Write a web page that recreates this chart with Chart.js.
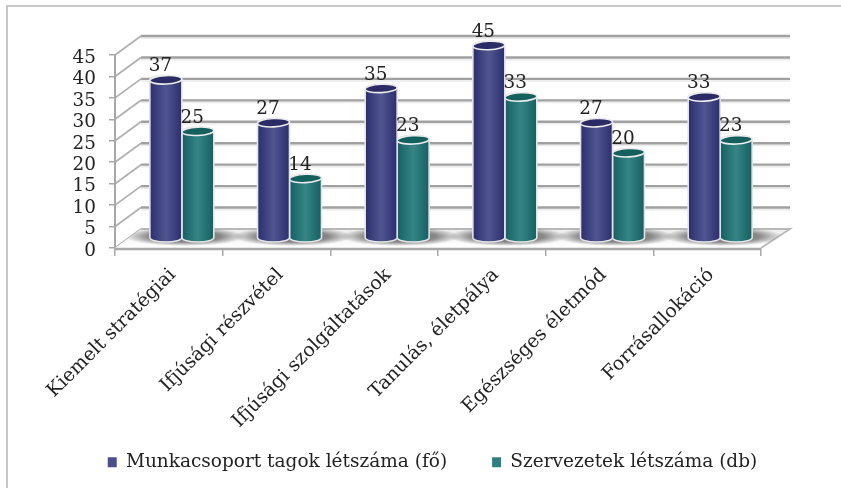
<!DOCTYPE html>
<html><head><meta charset="utf-8">
<style>html,body{margin:0;background:#fff}canvas{display:block}</style>
<script src="https://cdn.jsdelivr.net/npm/chart.js@4"></script></head>
<body><canvas id="c" width="841" height="488"></canvas>
<script>
const categories=["Kiemelt stratégiai","Ifjúsági részvétel","Ifjúsági szolgáltatások","Tanulás, életpálya","Egészséges életmód","Forrásallokáció"];
const groupMembers=[37,27,35,45,27,33];
const organisations=[25,14,23,33,20,23];
const seriesNames=["Munkacsoport tagok létszáma (fő)","Szervezetek létszáma (db)"];
const FONT='"DejaVu Serif",serif';
const DX=26,DY=-19;
function shade(ctx,x,w,c){const g=ctx.createLinearGradient(x,0,x+w,0);
 g.addColorStop(0,c[0]);g.addColorStop(.5,c[1]);g.addColorStop(1,c[0]);return g;}
const pal=[{side:['#2a2e6e','#51558f'],top:'#2b2c66',leg:'#4a4e8f'},{side:['#155f62','#368585'],top:'#14605f',leg:'#2f8080'}];
const LEGEND_TOP=408;
const scene={id:'scene',
 afterLayout(ch){const l=ch.legend;l.left+=52;l.right+=52;l.top=LEGEND_TOP;l.bottom=488;ch.scales.x.bottom=488;},
 beforeDatasetsDraw(ch){const {ctx,chartArea:a,scales:{y}}=ch;ctx.save();
  ctx.strokeStyle='#b5b5b5';ctx.lineWidth=1.5;ctx.beginPath();ctx.moveTo(7,488);ctx.lineTo(7,6);ctx.lineTo(841,6);ctx.stroke();
  const y0=y.getPixelForValue(0);
  y.ticks.forEach(t=>{const p=y.getPixelForValue(t.value);
   if(t.value>0){ctx.strokeStyle='#a0a0a0';ctx.lineWidth=2.4;ctx.beginPath();ctx.moveTo(a.left+DX,p+DY);ctx.lineTo(a.right+DX+3,p+DY);ctx.stroke();
    ctx.strokeStyle='rgba(0,0,0,.08)';ctx.lineWidth=1.5;ctx.beginPath();ctx.moveTo(a.left+DX,p+DY+2.2);ctx.lineTo(a.right+DX+3,p+DY+2.2);ctx.stroke();}
   ctx.strokeStyle='#b0b0b0';ctx.lineWidth=1.8;ctx.beginPath();ctx.moveTo(a.left,p);ctx.lineTo(a.left+DX,p+DY);ctx.stroke();});
  ctx.strokeStyle='#a8a8a8';ctx.lineWidth=2;ctx.beginPath();ctx.moveTo(a.left,y.getPixelForValue(45));ctx.lineTo(a.left,y0);ctx.stroke();
  ctx.beginPath();ctx.moveTo(a.left,y0);ctx.lineTo(a.left+DX,y0+DY);ctx.lineTo(a.right+DX+3,y0+DY);ctx.lineTo(a.right,y0);ctx.closePath();
  const fg=ctx.createLinearGradient(0,y0+DY,0,y0);fg.addColorStop(0,'#ededed');fg.addColorStop(1,'#ffffff');ctx.fillStyle=fg;ctx.fill();
  ctx.strokeStyle='#b8b8b8';ctx.lineWidth=1.8;ctx.beginPath();ctx.moveTo(a.left+DX,y0+DY);ctx.lineTo(a.right+DX+3,y0+DY);ctx.lineTo(a.right,y0);ctx.stroke();
  ctx.strokeStyle='#a8a8a8';ctx.lineWidth=2.6;ctx.beginPath();ctx.moveTo(a.left,y0+1);ctx.lineTo(a.right,y0+1);ctx.stroke();
  ch.getDatasetMeta(1).data.forEach(b=>{const cx=b.x-b.width/2+DX/2+3,cy=y0+DY/2-2;
    const g=ctx.createRadialGradient(0,0,0,0,0,1);g.addColorStop(0,'rgba(30,30,30,.65)');g.addColorStop(.6,'rgba(30,30,30,.5)');g.addColorStop(1,'rgba(30,30,30,0)');
    ctx.save();ctx.beginPath();ctx.moveTo(a.left,y0);ctx.lineTo(a.left+DX,y0+DY);ctx.lineTo(a.right+DX+3,y0+DY);ctx.lineTo(a.right,y0);ctx.closePath();ctx.clip();
    ctx.translate(cx,cy);ctx.scale(60,9.5);ctx.fillStyle=g;ctx.beginPath();ctx.arc(0,0,1,0,7);ctx.fill();ctx.restore();});
  ctx.restore();},
 beforeDatasetDraw(ch,args){const {ctx}=ch;const c=pal[args.index];
  ch.getDatasetMeta(args.index).data.forEach(b=>{
   const x=b.x-b.width/2+DX/2,w=b.width,top=b.y+DY/2,bot=b.base+DY/2,rx=w/2,ry=4.2,cx=x+rx;
   ctx.save();ctx.beginPath();ctx.moveTo(x,top);ctx.lineTo(x,bot);ctx.ellipse(cx,bot,rx,ry,0,Math.PI,0,true);ctx.lineTo(x+w,top);ctx.ellipse(cx,top,rx,ry,0,0,Math.PI,true);ctx.closePath();
   ctx.fillStyle=shade(ctx,x,w,c.side);ctx.fill();ctx.strokeStyle='#e4e4e4';ctx.lineWidth=1.6;ctx.stroke();
   ctx.save();ctx.translate(cx,top);ctx.rotate(-0.05);ctx.beginPath();ctx.ellipse(0,0,rx,ry,0,0,7);ctx.fillStyle=c.top;ctx.fill();ctx.strokeStyle='#ececec';ctx.lineWidth=1.6;ctx.stroke();ctx.restore();
   ctx.restore();});
  return false;},
 afterDatasetsDraw(ch){const {ctx}=ch;ctx.save();ctx.font='18.4px '+FONT;ctx.fillStyle='#222';ctx.textAlign='center';ctx.textBaseline='alphabetic';
  ch.data.datasets.forEach((d,i)=>ch.getDatasetMeta(i).data.forEach((b,j)=>{ctx.fillText(d.data[j],b.x+DX/2-5.5,b.y+DY/2-8.5);}));ctx.restore();}
};
new Chart(document.getElementById('c'),{type:'bar',
 data:{labels:categories,datasets:[
  {label:seriesNames[0],data:groupMembers,backgroundColor:pal[0].leg,borderWidth:0},
  {label:seriesNames[1],data:organisations,backgroundColor:pal[1].leg,borderWidth:0}]},
 options:{responsive:false,animation:false,devicePixelRatio:1,
  layout:{padding:{left:0,right:80,top:55,bottom:0}},
  categoryPercentage:.594,barPercentage:1,
  plugins:{tooltip:{enabled:false},title:{display:false},
   legend:{display:true,position:'bottom',labels:{boxWidth:9,boxHeight:10,padding:45,color:'#222',font:{family:FONT,size:18.5}}}},
  scales:{
   x:{position:'bottom',afterFit(a){a.height=240-a.chart.legend.height;},
      grid:{display:true,drawOnChartArea:false,color:'#a8a8a8',lineWidth:1.5,tickLength:8,offset:true},border:{display:false},
      ticks:{font:{family:FONT,size:19},color:'#222',minRotation:45,maxRotation:45,padding:8,labelOffset:4,autoSkip:false}},
   y:{min:0,max:45,position:'left',afterFit(a){a.width=115;},
      grid:{display:true,drawOnChartArea:false,color:'#a8a8a8',lineWidth:1.5,tickLength:6},border:{display:false},
      ticks:{stepSize:5,autoSkip:false,font:{family:FONT,size:18.4},color:'#222',padding:13,labelOffset:3}}
  }},
 plugins:[scene]
});
</script></body></html>
